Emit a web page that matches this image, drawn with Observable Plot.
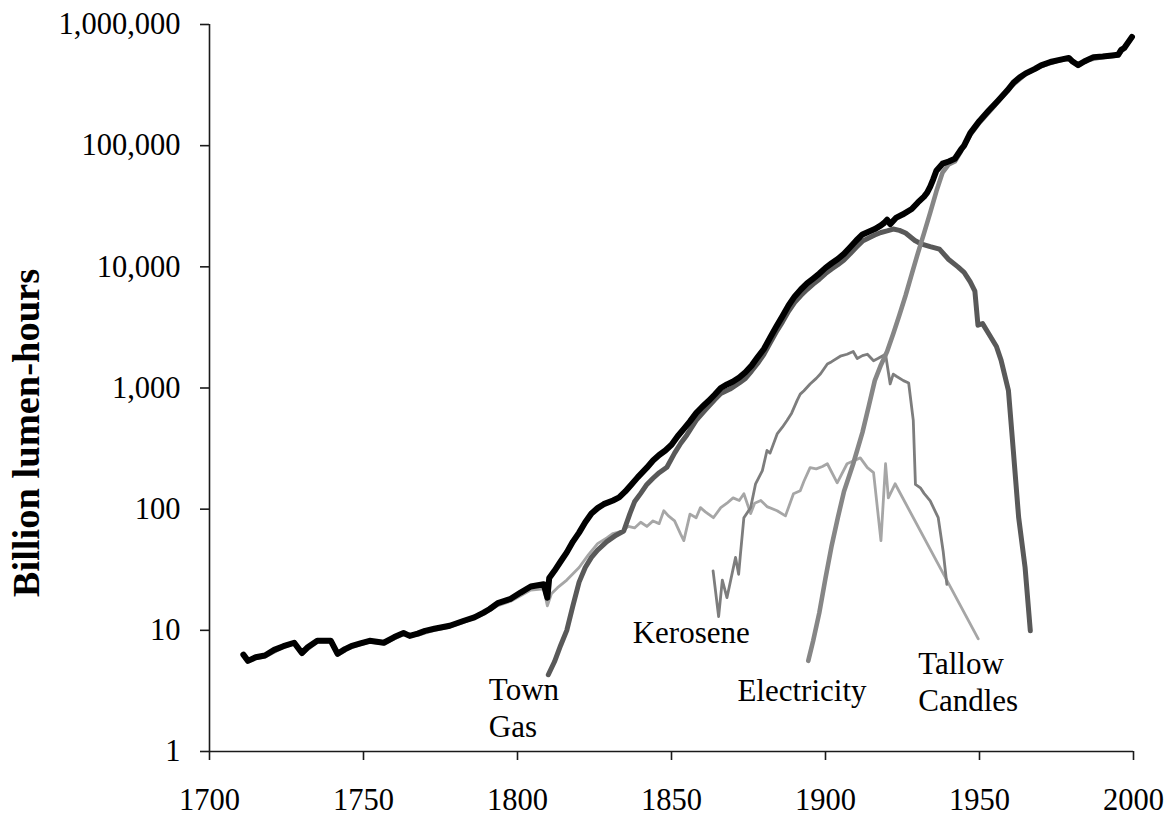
<!DOCTYPE html>
<html>
<head>
<meta charset="utf-8">
<script src="https://cdn.jsdelivr.net/npm/d3@7"></script>
<script src="https://cdn.jsdelivr.net/npm/@observablehq/plot@0.6"></script>
<style>
  html, body { margin: 0; padding: 0; background: #ffffff; }
  #chart { width: 1175px; height: 816px; }
</style>
</head>
<body>
<div id="chart"></div>
<script>
// ---------- data (year, billion lumen-hours) ----------
const xTicks = [1700, 1750, 1800, 1850, 1900, 1950, 2000];
const yTicks = [1, 10, 100, 1000, 10000, 100000, 1000000];

const total = [
  [1711,6.3],[1712.5,5.6],[1715,6.0],[1718,6.2],[1721,6.9],[1724,7.4],[1727.5,7.9],[1730,6.5],
  [1732,7.3],[1735,8.2],[1739.4,8.2],[1741.6,6.4],[1744,7.0],[1746,7.4],[1749,7.8],[1752,8.2],
  [1756.6,7.9],[1760,8.8],[1763,9.5],[1765,9.0],[1767.6,9.4],[1770,9.9],[1773,10.3],[1778,10.9],
  [1782.6,12.0],[1786,12.8],[1789,14.0],[1791,15.0],[1793.6,16.8],[1797.8,18.2],[1801,20.5],
  [1804.3,23],[1808.5,24],[1809.7,18.6],[1810.3,27],[1812,31],[1814,37],[1816,44],[1818,54],
  [1820,64],[1822,78],[1824,92],[1826,102],[1828,110],[1831,118],[1833,125],[1835,140],[1837,160],
  [1839,183],[1842,220],[1844,252],[1846,280],[1848,305],[1850,340],[1852,400],[1854,460],
  [1856,530],[1858,620],[1860,700],[1862,780],[1864,880],[1866,1000],[1868,1070],[1870,1130],
  [1872,1220],[1874,1350],[1876,1530],[1878,1800],[1880,2100],[1882,2600],[1884,3200],[1886,3900],
  [1888,4800],[1890,5700],[1892,6500],[1894,7300],[1896,8000],[1898,8800],[1900,9800],[1902,10700],
  [1904,11600],[1906,12800],[1908,14500],[1910,16500],[1912,18500],[1914,19500],[1916,20500],
  [1918,22000],[1919,23000],[1920,24500],[1921,22500],[1923,25500],[1925,27000],[1928,30000],
  [1930,34000],[1932,38000],[1933,41000],[1934,46000],[1935,53000],[1936,62000],[1938,71000],
  [1940,74000],[1942,78000],[1944,93000],[1945,100000],[1947,127000],[1950,160000],[1953,195000],
  [1956,235000],[1959,285000],[1961,330000],[1963,365000],[1965,395000],[1968,430000],[1970,460000],
  [1973,490000],[1976,510000],[1979,530000],[1980,500000],[1982,462000],[1984,495000],[1987,538000],
  [1990,545000],[1993,555000],[1995,562000],[1996,617000],[1997,640000],[1999.5,790000]
];

const townGas = [
  [1810,4.3],[1812,5.5],[1814,7.5],[1816,10],[1818,16],[1820,25],[1822,33],[1824,40],[1826,46],
  [1829,54],[1832,61],[1834.5,66],[1836.5,92],[1838,115],[1840,135],[1842,160],[1844,180],
  [1846,200],[1848.5,222],[1851,290],[1853,350],[1855,410],[1858,540],[1861,660],[1864,800],
  [1866,900],[1869,980],[1872,1100],[1874,1200],[1876,1380],[1878,1600],[1880,1900],[1882,2350],
  [1884,2900],[1886,3500],[1888,4300],[1890,5100],[1892,5800],[1894,6500],[1896,7200],[1898,7900],
  [1900,8800],[1902,9600],[1904,10400],[1906,11400],[1908,12800],[1910,14500],[1912,16300],
  [1914,17300],[1916,18300],[1918,19200],[1920,19800],[1922,20500],[1924,20000],[1926,19000],
  [1929,16500],[1931,15500],[1934,14700],[1937,14000],[1940,11500],[1943,10000],[1945,9000],
  [1947,7500],[1948.5,6300],[1949.5,3300],[1951,3400],[1953,2800],[1955.5,2200],[1957,1700],
  [1959.4,950],[1961,300],[1962.7,86],[1964.8,33],[1966.5,9.9]
];

const electricity = [
  [1894.4,5.6],[1896,8.2],[1898,14],[1900,27],[1902,50],[1904,85],[1906,140],[1909,237],[1912,430],
  [1914,700],[1916,1150],[1918,1550],[1920,2000],[1922,2800],[1924,4000],[1926,5800],[1928,8700],
  [1930,13000],[1932,19000],[1934,28000],[1936,42000],[1938,60000],[1940,70000],[1942,74000],
  [1944,90000],[1947,123000],[1950,155000],[1955,215000],[1960,305000],[1965,390000],[1970,455000],
  [1975,500000],[1979,525000],[1982,458000],[1985,510000],[1990,540000],[1995,555000],[1999.5,780000]
];

const kerosene = [
  [1863.5,31],[1865.3,13],[1866.5,26],[1868,18.6],[1870.8,40],[1871.8,29],[1872.4,43],[1873.5,85],
  [1875.7,103],[1877.3,162],[1879.5,208],[1881,305],[1882,290],[1884.3,418],[1886,475],[1887.5,540],
  [1889,620],[1890.8,790],[1891.8,890],[1893,950],[1895,1080],[1897,1200],[1898.4,1310],
  [1900.6,1580],[1902,1650],[1904.8,1830],[1907,1900],[1909,2000],[1910.3,1750],[1912,1850],
  [1913.6,1900],[1915.6,1680],[1917,1750],[1919.5,1900],[1921,1080],[1922,1300],[1923,1250],
  [1925.3,1150],[1927,1100],[1928.5,540],[1929.2,160],[1930.8,150],[1932,135],[1934,117],
  [1936.6,85],[1938.2,45],[1939.4,24]
];

const tallowCandles = [
  [1711,6.1],[1712.5,5.5],[1715,5.8],[1718,6.0],[1724,7.2],[1727.5,7.7],[1730,6.3],[1735,8.0],
  [1739.4,8.0],[1741.6,6.2],[1746,7.2],[1752,8.0],[1756.6,7.7],[1763,9.2],[1767.6,9.1],[1773,10.0],
  [1778,10.6],[1782.6,11.6],[1789,13.5],[1793.6,16.0],[1797.8,17.4],[1804.3,21.5],[1808.5,22.0],
  [1809.7,15.9],[1811,20],[1813,22.5],[1816,26],[1820,33],[1823,42],[1826,52],[1829,58],[1831,63],
  [1834,66],[1836,72],[1838,70],[1840,78],[1842,72],[1844,80],[1846,76],[1847.5,97],[1849,88],
  [1851,80],[1853,62],[1854,55],[1856,91],[1858,85],[1859.4,103],[1861,95],[1863.6,85],[1866,103],
  [1868,112],[1870,124],[1872,118],[1873.5,134],[1875.7,92],[1877,112],[1879,118],[1881,105],
  [1884.3,97],[1887,88],[1889.6,134],[1891.8,142],[1893,170],[1895,220],[1897,215],[1899,225],
  [1900.6,237],[1903.8,165],[1907,237],[1909,250],[1911.3,265],[1913.6,220],[1915.6,200],
  [1918,55],[1919.5,237],[1920.4,124],[1922.6,162],[1949.6,8.5]
];

const labels = [
  {year: 1790.7, value: 1.32, text: "Town\nGas"},
  {year: 1837.4, value: 7.9, text: "Kerosene"},
  {year: 1871.4, value: 2.61, text: "Electricity"},
  {year: 1930.1, value: 2.16, text: "Tallow\nCandles"}
];

const yTitle = "Billion lumen-hours";

// ---------- chart ----------
const lineOpts = {x: d => d[0], y: d => d[1], strokeLinejoin: "round", strokeLinecap: "round"};

const chart = Plot.plot({
  width: 1175,
  height: 816,
  marginLeft: 209,
  marginRight: 42,
  marginTop: 24,
  marginBottom: 65,
  style: {fontFamily: "'Liberation Serif', 'Times New Roman', serif", fontSize: "30px", color: "#000", background: "#fff"},
  x: {domain: [1700, 2000]},
  y: {type: "log", domain: [1, 1000000]},
  marks: [
    Plot.line(tallowCandles, {...lineOpts, stroke: "#a6a6a6", strokeWidth: 2.8}),
    Plot.line(kerosene, {...lineOpts, stroke: "#7d7d7d", strokeWidth: 2.8}),
    Plot.line(townGas, {...lineOpts, stroke: "#595959", strokeWidth: 5}),
    Plot.line(electricity, {...lineOpts, stroke: "#868686", strokeWidth: 4.6}),
    Plot.line(total, {...lineOpts, stroke: "#000", strokeWidth: 6}),
    Plot.ruleX([1700], {stroke: "#1a1a1a", strokeWidth: 1.6}),
    Plot.ruleY([1], {stroke: "#1a1a1a", strokeWidth: 1.6}),
    Plot.axisX({ticks: xTicks, tickFormat: d => String(d), tickSize: 9, tickPadding: 28,
      label: null, fontSize: 30.5, stroke: "#1a1a1a", strokeWidth: 1.6, fill: "#000"}),
    Plot.axisY({ticks: yTicks, tickFormat: d3.format(","), tickSize: 9, tickPadding: 20,
      label: null, fontSize: 30.5, stroke: "#1a1a1a", strokeWidth: 1.6, fill: "#000"}),
    Plot.text(labels, {x: "year", y: "value", text: "text", textAnchor: "start", lineAnchor: "bottom",
      lineHeight: 1.19, fontSize: 31, fill: "#000"}),
    Plot.text([yTitle], {text: d => d, frameAnchor: "left", textAnchor: "middle", rotate: -90,
      dx: -183, dy: 45, fontSize: 38.5, fontWeight: "bold", fill: "#000"})
  ]
});

document.getElementById("chart").appendChild(chart);
</script>
</body>
</html>
